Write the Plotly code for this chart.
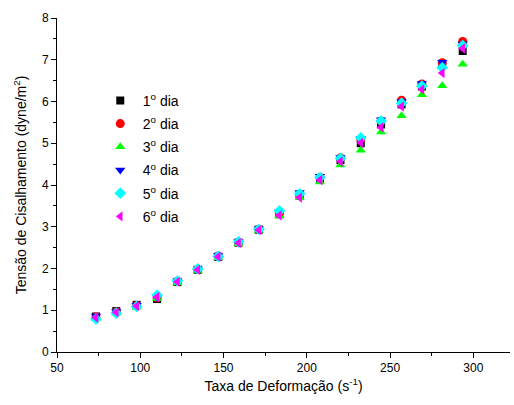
import plotly.graph_objects as go

# Data
taxa = [73.4, 85.6, 97.8, 110.1, 122.3, 134.5, 146.8, 159.0, 171.2, 183.5,
        195.7, 207.9, 220.2, 232.4, 244.6, 256.9, 269.1, 281.3, 293.6]

dia1 = [0.85, 0.98, 1.13, 1.27, 1.68, 1.97, 2.28, 2.62, 2.93, 3.30,
        3.75, 4.15, 4.60, 5.00, 5.45, 5.93, 6.36, 6.90, 7.21]
dia2 = [0.84, 0.96, 1.11, 1.30, 1.69, 1.98, 2.30, 2.63, 2.94, 3.33,
        3.77, 4.18, 4.65, 5.10, 5.53, 6.03, 6.42, 6.93, 7.44]
dia3 = [0.80, 0.93, 1.07, 1.28, 1.66, 1.95, 2.26, 2.59, 2.91, 3.26,
        3.70, 4.07, 4.48, 4.83, 5.27, 5.66, 6.16, 6.38, 6.89]
dia4 = [0.86, 0.97, 1.12, 1.31, 1.70, 1.99, 2.31, 2.64, 2.95, 3.36,
        3.82, 4.21, 4.66, 5.12, 5.56, 6.00, 6.43, 6.94, 7.38]
dia5 = [0.79, 0.93, 1.09, 1.36, 1.70, 1.99, 2.29, 2.64, 2.94, 3.38,
        3.79, 4.18, 4.64, 5.13, 5.53, 5.96, 6.37, 6.81, 7.34]
dia6 = [0.82, 0.95, 1.10, 1.32, 1.68, 1.97, 2.28, 2.61, 2.92, 3.27,
        3.70, 4.12, 4.56, 5.01, 5.38, 5.88, 6.29, 6.68, 7.27]

series_names = ["1<sup>o</sup> dia", "2<sup>o</sup> dia", "3<sup>o</sup> dia",
                "4<sup>o</sup> dia", "5<sup>o</sup> dia", "6<sup>o</sup> dia"]
series_values = [dia1, dia2, dia3, dia4, dia5, dia6]
colors = ["#000000", "#FF0000", "#00FF00", "#0000FF", "#00FFFF", "#FF00FF"]
symbols = ["square", "circle", "triangle-up", "triangle-down", "diamond", "triangle-left"]
sizes = [8, 9, 9, 9, 9, 9]

FONT = "Liberation Sans, Arial, sans-serif"

fig = go.Figure()
for i, (name, vals, c, s, sz) in enumerate(zip(series_names, series_values, colors, symbols, sizes)):
    fig.add_trace(go.Scatter(
        x=taxa, y=vals, mode="markers", name=name, legendgroup=f"g{i}",
        marker=dict(color=c, symbol=s, size=sz, line=dict(width=0)),
    ))

axis_common = dict(
    showline=True, linecolor="black", linewidth=1, mirror=False,
    showgrid=False, zeroline=False,
    ticks="outside", ticklen=5, tickwidth=1, tickcolor="black",
    tickfont=dict(family=FONT, size=12, color="black"),
)

fig.update_layout(
    width=514, height=405,
    margin=dict(l=57, r=4, t=18, b=53),
    paper_bgcolor="white", plot_bgcolor="white",
    font=dict(family=FONT, color="black"),
    xaxis=dict(
        range=[50, 322], tickmode="array", tickvals=[50, 100, 150, 200, 250, 300],
        minor=dict(ticks="outside", ticklen=3, tickwidth=1, tickcolor="black", dtick=25, tick0=50),
        title=dict(text="Taxa de Deformação (s<sup>-1</sup>)", font=dict(family=FONT, size=14), standoff=6),
        **axis_common,
    ),
    yaxis=dict(
        range=[0, 8], tickmode="array", tickvals=[0, 1, 2, 3, 4, 5, 6, 7, 8],
        minor=dict(ticks="outside", ticklen=3, tickwidth=1, tickcolor="black", dtick=0.5, tick0=0),
        title=dict(text="Tensão de Cisalhamento (dyne/m<sup>2</sup>)", font=dict(family=FONT, size=14), standoff=12),
        **axis_common,
    ),
    showlegend=True,
    legend=dict(
        x=0.09, y=0.80, xanchor="left", yanchor="top",
        bgcolor="rgba(0,0,0,0)", borderwidth=0,
        font=dict(family=FONT, size=14, color="black"),
        tracegroupgap=2, itemwidth=35,
    ),
)

fig.write_html("out.html")
